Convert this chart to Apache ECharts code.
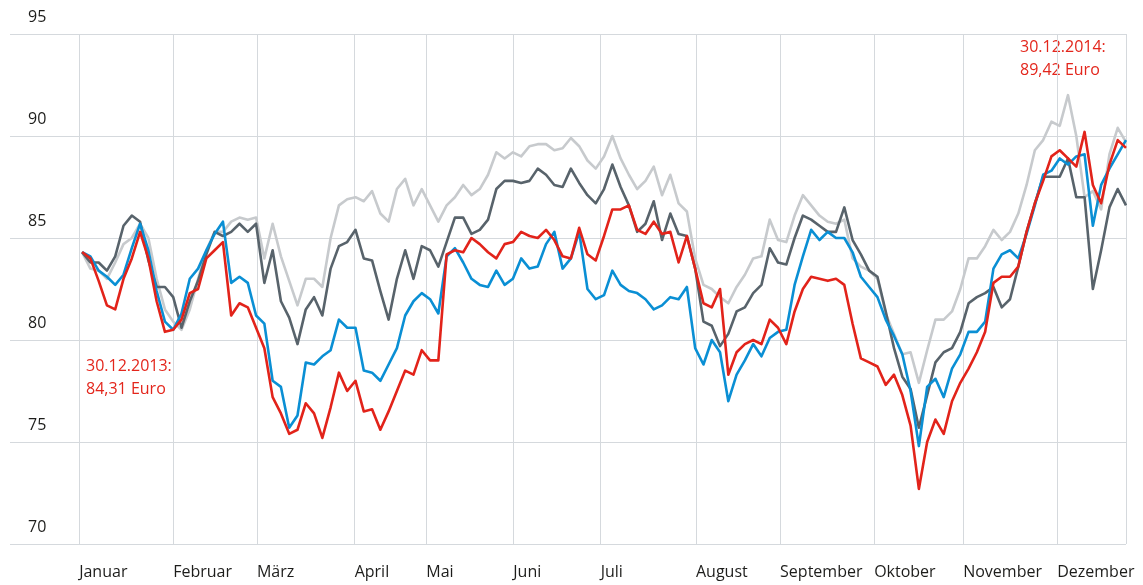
<!DOCTYPE html>
<html><head><meta charset="utf-8">
<script src="https://cdn.jsdelivr.net/npm/echarts@6/dist/echarts.min.js"></script>
<style>html,body{margin:0;padding:0;background:#fff}#c{width:1143px;height:585px}</style>
</head><body><div id="c"></div><script>
// x unit: trading day since 30.12.2013; values sampled every STEP trading days
const STEP = 2;
const monthNames = ['Januar','Februar','März','April','Mai','Juni','Juli','August','September','Oktober','November','Dezember'];
const monthStarts = [-0.7, 22, 42.2, 65.8, 83.1, 104.1, 125.2, 148.2, 168.5, 191.2, 212.7, 235.4, 252];
const yTicks = [70, 75, 80, 85, 90, 95];

const red = [84.31, 84.0, 82.9, 81.7, 81.5, 83.0, 84.0, 85.3, 84.0, 81.9,
80.4, 80.5, 81.0, 82.3, 82.5, 84.0, 84.4, 84.8, 81.2, 81.8,
81.6, 80.6, 79.6, 77.2, 76.4, 75.4, 75.6, 76.9, 76.4, 75.2,
76.7, 78.4, 77.5, 78.0, 76.5, 76.6, 75.6, 76.5, 77.5, 78.5,
78.3, 79.5, 79.0, 79.0, 84.2, 84.4, 84.3, 85.0, 84.7, 84.3,
84.0, 84.7, 84.8, 85.3, 85.1, 85.0, 85.4, 84.9, 84.1, 84.0,
85.5, 84.2, 83.9, 85.1, 86.4, 86.4, 86.6, 85.4, 85.2, 85.8,
85.2, 85.3, 83.8, 85.1, 83.5, 81.8, 81.6, 82.5, 78.3, 79.4,
79.8, 80.0, 79.8, 81.0, 80.6, 79.8, 81.4, 82.5, 83.1, 83.0,
82.9, 83.0, 82.7, 80.8, 79.1, 78.9, 78.7, 77.8, 78.3, 77.3,
75.8, 72.7, 75.0, 76.1, 75.4, 77.0, 77.9, 78.6, 79.4, 80.4,
82.8, 83.1, 83.1, 83.6, 85.3, 86.7, 87.8, 89.0, 89.3, 88.9,
88.5, 90.2, 87.6, 86.7, 88.6, 89.8, 89.42];

const blue = [84.3, 84.1, 83.4, 83.1, 82.7, 83.2, 84.5, 85.7, 84.4, 82.4,
80.9, 80.5, 81.3, 83.0, 83.5, 84.4, 85.2, 85.8, 82.8, 83.1,
82.8, 81.2, 80.8, 78.0, 77.7, 75.7, 76.3, 78.9, 78.8, 79.2,
79.5, 81.0, 80.6, 80.6, 78.5, 78.4, 78.0, 78.8, 79.6, 81.2,
81.9, 82.3, 82.0, 81.3, 84.1, 84.5, 83.8, 83.0, 82.7, 82.6,
83.4, 82.7, 83.0, 84.0, 83.5, 83.6, 84.7, 85.3, 83.5, 84.0,
85.3, 82.5, 82.0, 82.2, 83.4, 82.7, 82.4, 82.3, 82.0, 81.5,
81.7, 82.1, 82.0, 82.6, 79.6, 78.8, 80.0, 79.4, 77.0, 78.3,
79.0, 79.8, 79.2, 80.1, 80.4, 80.5, 82.7, 84.1, 85.4, 84.9,
85.3, 85.0, 85.0, 84.3, 83.1, 82.6, 82.1, 81.0, 80.2, 79.3,
77.5, 74.8, 77.7, 78.1, 77.2, 78.6, 79.3, 80.4, 80.4, 80.9,
83.5, 84.2, 84.4, 84.0, 85.2, 86.6, 88.1, 88.3, 88.9, 88.6,
89.0, 89.1, 85.6, 87.6, 88.4, 89.1, 89.8];

const darkGray = [84.3, 83.8, 83.8, 83.4, 84.1, 85.6, 86.1, 85.8, 83.9, 82.6,
82.6, 82.1, 80.6, 81.9, 82.9, 84.2, 85.3, 85.1, 85.3, 85.7,
85.3, 85.7, 82.8, 84.4, 81.9, 81.1, 79.8, 81.5, 82.1, 81.2,
83.5, 84.6, 84.8, 85.4, 84.0, 83.9, 82.4, 81.0, 83.0, 84.4,
83.0, 84.6, 84.4, 83.6, 84.8, 86.0, 86.0, 85.2, 85.4, 85.9,
87.4, 87.8, 87.8, 87.7, 87.8, 88.4, 88.1, 87.6, 87.5, 88.4,
87.7, 87.1, 86.7, 87.4, 88.6, 87.5, 86.6, 85.3, 85.7, 86.8,
84.9, 86.2, 85.2, 85.1, 83.5, 80.9, 80.7, 79.7, 80.3, 81.4,
81.6, 82.3, 82.7, 84.5, 83.8, 83.7, 85.0, 86.1, 85.9, 85.6,
85.3, 85.3, 86.5, 84.9, 84.2, 83.4, 83.1, 81.4, 79.6, 78.2,
77.6, 75.7, 77.3, 78.9, 79.4, 79.6, 80.4, 81.8, 82.1, 82.3,
82.6, 81.6, 82.0, 83.6, 85.3, 86.7, 88.0, 88.0, 88.0, 88.9,
87.0, 87.0, 82.5, 84.4, 86.5, 87.4, 86.6];

const lightGray = [84.3, 83.5, 83.4, 83.0, 83.8, 84.7, 85.0, 85.7, 85.0, 83.0,
81.5, 80.9, 80.5, 81.5, 83.0, 84.4, 85.3, 85.3, 85.8, 86.0,
85.9, 86.0, 84.0, 85.7, 84.1, 82.9, 81.7, 83.0, 83.0, 82.6,
85.0, 86.6, 86.9, 87.0, 86.8, 87.3, 86.2, 85.8, 87.4, 87.9,
86.6, 87.4, 86.6, 85.8, 86.6, 87.0, 87.6, 87.1, 87.4, 88.1,
89.2, 88.9, 89.2, 89.0, 89.5, 89.6, 89.6, 89.3, 89.4, 89.9,
89.5, 88.8, 88.4, 89.0, 90.0, 88.9, 88.1, 87.4, 87.8, 88.5,
87.1, 88.1, 86.7, 86.3, 84.0, 82.7, 82.5, 82.1, 81.8, 82.6,
83.2, 84.0, 84.1, 85.9, 84.9, 84.8, 86.1, 87.1, 86.6, 86.1,
85.8, 85.7, 85.9, 84.0, 83.6, 83.4, 83.0, 81.3, 80.3, 79.3,
79.4, 77.9, 79.5, 81.0, 81.0, 81.4, 82.5, 84.0, 84.0, 84.6,
85.4, 84.9, 85.3, 86.2, 87.6, 89.3, 89.8, 90.7, 90.5, 92.0,
90.0, 87.0, 87.3, 86.4, 89.1, 90.4, 89.7];

const startNote = '30.12.2013:\n84,31 Euro';
const endNote = '30.12.2014:\n89,42 Euro';

const toPairs = arr => arr.map((v, i) => [i * STEP, v]);
const FONT = '"Open Sans", "Noto Sans", sans-serif';
const GRID = '#d5d9dd';
const mkSeries = (data, color, z) => ({
  type: 'line', data: toPairs(data), showSymbol: false, z: z,
  lineStyle: { color: color, width: 2.6, join: 'round' }, itemStyle: { color: color },
  emphasis: { disabled: true }, animation: false
});

const chart = echarts.init(document.getElementById('c'), null, { renderer: 'canvas' });
chart.setOption({
  animation: false,
  textStyle: { fontFamily: FONT },
  grid: { left: 10, right: 17, top: 32, bottom: 41, containLabel: false },
  xAxis: {
    type: 'value', min: -17.4, max: 252,
    axisLine: { show: false },
    axisTick: { show: false, customValues: monthStarts },
    splitLine: { show: true, lineStyle: { color: GRID, width: 1 } },
    axisLabel: {
      customValues: monthStarts, align: 'left', margin: 20,
      fontSize: 16, color: '#1d1d1b', fontFamily: FONT,
      formatter: v => { const i = monthStarts.indexOf(v); return i >= 0 && i < monthNames.length ? monthNames[i] : ''; }
    }
  },
  yAxis: {
    type: 'value', min: yTicks[0], max: yTicks[yTicks.length - 1], interval: 5,
    axisLine: { show: false }, axisTick: { show: false },
    splitLine: { show: true, lineStyle: { color: GRID, width: 1 } },
    axisLabel: { inside: true, margin: 18, verticalAlign: 'bottom', lineHeight: 34,
      fontSize: 16, color: '#1d1d1b', fontFamily: FONT }
  },
  series: [
    mkSeries(lightGray, '#c7cacd', 2),
    mkSeries(darkGray, '#58636b', 3),
    mkSeries(blue, '#0a8fd4', 4),
    mkSeries(red, '#e2231a', 5)
  ],
  graphic: [
    { type: 'text', left: 86, top: 355, style: { text: startNote, fill: '#e3261c', font: '16px ' + FONT, lineHeight: 23 } },
    { type: 'text', left: 1020, top: 36, style: { text: endNote, fill: '#e3261c', font: '16px ' + FONT, lineHeight: 23 } }
  ]
});
</script></body></html>
